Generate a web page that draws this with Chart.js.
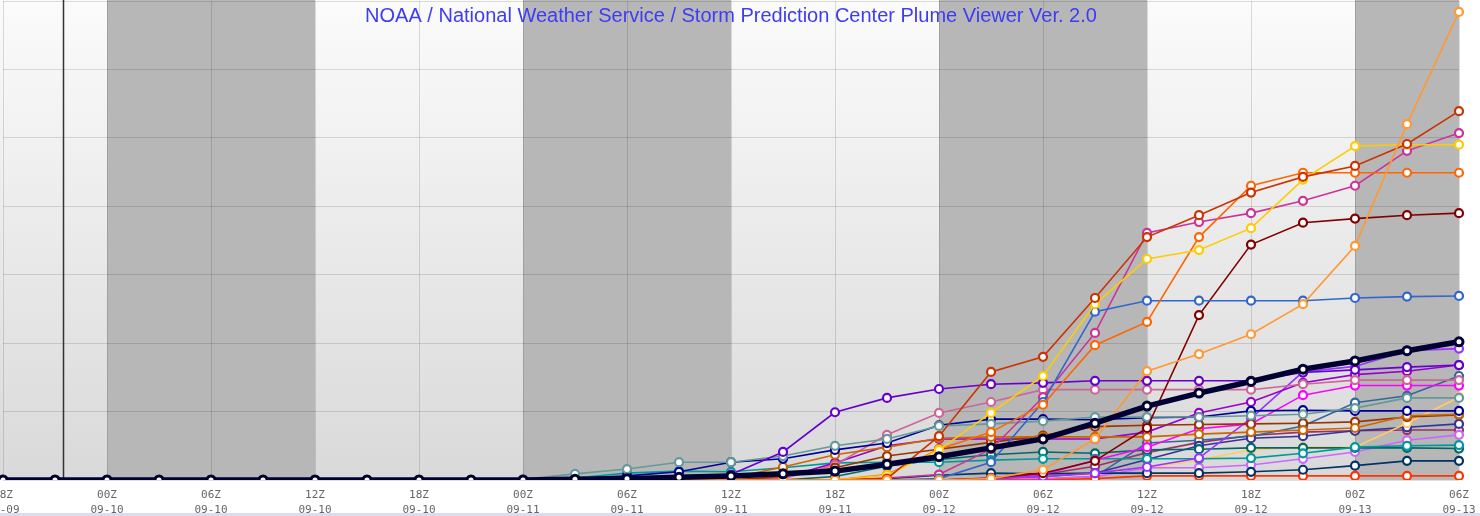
<!DOCTYPE html>
<html>
<head>
<meta charset="utf-8">
<script src="https://cdn.jsdelivr.net/npm/chart.js@4.4.1/dist/chart.umd.min.js"></script>
<style>
  html, body { margin: 0; padding: 0; background: #fff; }
  body { width: 1480px; height: 516px; overflow: hidden; position: relative; }
  #plume { position: absolute; left: 0; top: 0; }
  #strip { position: absolute; left: 0; top: 513px; width: 1480px; height: 3px; background: #dcdcf0; }
</style>
</head>
<body>
<canvas id="plume" width="1480" height="516"></canvas>
<div id="strip"></div>
<script>
const titleText = "NOAA / National Weather Service / Storm Prediction Center Plume Viewer Ver. 2.0"

// valid times, every 3 h
const timeLabels = ["18Z","21Z","00Z","03Z","06Z","09Z","12Z","15Z","18Z","21Z",
                    "00Z","03Z","06Z","09Z","12Z","15Z","18Z","21Z",
                    "00Z","03Z","06Z","09Z","12Z","15Z","18Z","21Z",
                    "00Z","03Z","06Z"]
const dateLabels = ["09-09","09-09","09-10","09-10","09-10","09-10","09-10","09-10","09-10","09-10",
                    "09-11","09-11","09-11","09-11","09-11","09-11","09-11","09-11",
                    "09-12","09-12","09-12","09-12","09-12","09-12","09-12","09-12",
                    "09-13","09-13","09-13"]

// night shading (index ranges) and the "now" marker
const nightBands = [[2, 6], [10, 14], [18, 22], [26, 28]]
const nowMark = 1.15

// ensemble members
const mem01 = [0,0,0,0,0,0,0,0,0,0, 0,0,0,0,0,0,0,0,0,0.02,0.15,0.60,1.59,1.84,2.13,2.57,3.42,5.20,6.84]
const mem02 = [0,0,0,0,0,0,0,0,0,0, 0,0,0,0,0,0,0,0.02,0.64,1.58,1.80,2.66,3.55,3.87,4.20,4.43,4.59,4.91,5.39]
const mem03 = [0,0,0,0,0,0,0,0,0,0, 0,0,0,0,0,0,0,0.07,0.44,0.98,1.52,2.57,3.23,3.36,3.68,4.39,4.88,4.90,4.90]
const mem04 = [0,0,0,0,0,0,0,0,0,0, 0,0,0,0,0,0,0,0.08,0.45,0.70,1.10,1.97,2.31,3.55,4.30,4.49,4.49,4.49,4.49]
const mem05 = [0,0,0,0,0,0,0,0,0,0, 0,0,0,0,0,0,0,0,0.02,0.26,1.14,2.46,2.62,2.62,2.62,2.62,2.66,2.68,2.69]
const mem06 = [0,0,0,0,0,0,0,0,0,0, 0,0,0,0,0,0,0,0.03,0.08,0.45,1.21,2.15,3.61,3.77,3.90,4.08,4.30,4.81,5.07]
const mem07 = [0,0,0,0,0,0,0,0,0,0, 0,0,0,0,0,0,0,0,0,0.03,0.10,0.28,0.76,2.41,3.44,3.76,3.82,3.87,3.90]
const mem08 = [0,0,0,0,0,0,0,0,0,0, 0,0,0,0.02,0.08,0.41,0.99,1.20,1.33,1.40,1.42,1.45,1.45,1.45,1.45,1.57,1.61,1.65,1.68]
const mem09 = [0,0,0,0,0,0,0,0,0,0, 0.01,0.09,0.16,0.26,0.26,0.35,0.50,0.60,0.79,0.82,0.86,0.92,0.92,0.92,0.94,0.96,1.05,1.20,1.20]
const mem10 = [0,0,0,0,0,0,0,0,0,0, 0,0.02,0.06,0.12,0.26,0.31,0.44,0.54,0.80,0.89,0.89,0.88,0.91,0.92,1.01,1.02,1.01,1.01,1.01]
const mem11 = [0,0,0,0,0,0,0,0,0,0, 0,0,0,0,0.03,0.19,0.37,0.48,0.61,0.63,0.63,0.63,0.63,0.67,0.70,0.73,0.76,0.94,0.96]
const mem12 = [0,0,0,0,0,0,0,0,0,0, 0,0,0,0,0,0.05,0.18,0.35,0.45,0.55,0.65,0.78,0.80,0.81,0.82,0.83,0.85,0.92,0.95]
const mem13 = [0,0,0,0,0,0,0,0,0,0, 0,0,0,0,0,0.02,0.22,0.66,0.98,1.14,1.32,1.32,1.32,1.32,1.32,1.40,1.46,1.46,1.46]
const mem14 = [0,0,0,0,0,0,0,0,0,0, 0,0,0,0,0,0.03,0.25,0.50,0.60,0.60,0.60,0.60,0.70,0.98,1.14,1.42,1.54,1.59,1.68]
const mem15 = [0,0,0,0,0,0,0,0,0,0, 0,0,0,0,0,0,0,0,0,0.02,0.05,0.10,0.19,0.32,0.90,1.58,1.66,1.89,1.92]
const mem16 = [0,0,0,0,0,0,0,0,0,0, 0,0,0,0,0,0,0,0,0,0.02,0.08,0.29,0.48,0.75,0.82,1.24,1.38,1.38,1.38]
const mem17 = [0,0,0,0,0,0,0,0,0,0, 0,0.03,0.10,0.13,0.12,0.18,0.25,0.26,0.26,0.29,0.31,0.31,0.31,0.31,0.32,0.39,0.48,0.50,0.51]
const mem18 = [0,0,0,0,0,0,0,0,0,0, 0,0,0,0,0,0,0.05,0.20,0.30,0.37,0.41,0.39,0.44,0.45,0.47,0.47,0.47,0.47,0.46]
const mem19 = [0,0,0,0,0,0,0,0,0,0, 0,0,0,0,0,0,0,0.02,0.07,0.10,0.09,0.10,0.10,0.10,0.12,0.15,0.21,0.28,0.28]
const mem20 = [0,0,0,0,0,0,0,0,0,0, 0,0,0,0,0,0,0,0,0,0,0,0.02,0.06,0.06,0.06,0.06,0.06,0.06,0.06]
const mem21 = [0,0,0,0,0,0,0,0,0,0, 0,0,0,0,0,0,0,0,0,0,0.02,0.05,0.18,0.18,0.22,0.31,0.41,0.58,0.66]
const mem22 = [0,0,0,0,0,0,0,0,0,0, 0,0,0,0,0,0,0,0,0,0,0.03,0.08,0.18,0.29,0.44,0.48,0.48,0.83,1.21]
const mem23 = [0,0,0,0,0,0,0,0,0,0, 0,0,0,0,0,0,0,0,0,0,0.03,0.10,0.30,0.50,0.61,0.64,0.72,0.77,0.82]
const mem24 = [0,0,0,0,0,0,0,0,0,0, 0,0,0,0,0,0,0,0,0,0,0.02,0.05,0.54,0.58,0.64,0.79,1.13,1.23,1.52]
const mem25 = [0,0,0,0,0,0,0,0,0,0, 0,0,0,0,0,0,0,0,0,0,0.08,0.20,0.40,0.55,0.65,0.70,0.72,0.73,0.73]
// ensemble mean
const srefMean = [0,0,0,0,0,0,0,0,0,0, 0,0.01,0.02,0.04,0.06,0.09,0.13,0.23,0.34,0.47,0.60,0.83,1.08,1.27,1.44,1.62,1.74,1.89,2.02]

const members = [mem01, mem02, mem03, mem04, mem05, mem06, mem07, mem08, mem09, mem10,
                 mem11, mem12, mem13, mem14, mem15, mem16, mem17, mem18, mem19, mem20,
                 mem21, mem22, mem23, mem24, mem25]
const memberColors = ["#ff9933","#cc3300","#ffcc00","#ff6600","#3366cc","#cc3399","#800000","#6600cc","#669999","#000099",
                      "#cc6600","#993300","#cc6699","#9900cc","#9933ff","#ff00ff","#009999","#006666","#003366","#ff3300",
                      "#cc66ff","#ffcc66","#333399","#336699","#993366"]

const bgPlugin = {
    id: "plumeBg",
    beforeDraw(chart) {
        const {ctx, chartArea: a, scales: {x}} = chart
        ctx.save()
        const g = ctx.createLinearGradient(0, a.top, 0, a.bottom)
        g.addColorStop(0, "#fbfbfb")
        g.addColorStop(1, "#d9d9d9")
        ctx.fillStyle = g
        ctx.fillRect(0, 0, a.right, a.bottom)
        ctx.fillStyle = "#b7b7b7"
        nightBands.forEach(([s, e]) => {
            const x0 = x.getPixelForValue(s)
            const x1 = x.getPixelForValue(e)
            ctx.fillRect(x0, 0, x1 - x0, a.bottom)
        })
        ctx.restore()
    },
    beforeDatasetsDraw(chart) {
        const {ctx, chartArea: a, scales: {x}} = chart
        const px = Math.round(x.getPixelForValue(nowMark)) + 0.5
        ctx.save()
        ctx.strokeStyle = "#333"
        ctx.lineWidth = 1.5
        ctx.beginPath()
        ctx.moveTo(px, 0)
        ctx.lineTo(px, a.bottom)
        ctx.stroke()
        ctx.restore()
    },
    afterDraw(chart) {
        const {ctx, chartArea: a} = chart
        ctx.save()
        ctx.font = '20px "Liberation Sans", Arial, sans-serif'
        ctx.fillStyle = "#3c3cf5"
        ctx.textAlign = "center"
        ctx.textBaseline = "top"
        ctx.fillText(titleText, (a.left + a.right) / 2, 6)
        ctx.restore()
    }
}

const datasets = members.map((vals, i) => ({
    label: "m" + (i + 1),
    data: vals,
    borderColor: memberColors[i],
    backgroundColor: "#fff",
    borderWidth: 1.6,
    pointRadius: 4,
    pointBorderWidth: 2.2,
    pointBackgroundColor: "#fff",
    pointBorderColor: memberColors[i],
    order: 1
}))
datasets.push({
    label: "mean",
    data: srefMean,
    borderColor: "#000033",
    backgroundColor: "#fff",
    borderWidth: 5.5,
    pointRadius: 4,
    pointBorderWidth: 3,
    pointBackgroundColor: "#fff",
    pointBorderColor: "#000033",
    order: 0
})

const gridColor = "rgba(0,0,0,0.13)"

new Chart(document.querySelector("#plume"), {
    type: "line",
    data: { labels: timeLabels, datasets: datasets },
    plugins: [bgPlugin],
    options: {
        responsive: false,
        maintainAspectRatio: false,
        animation: false,
        layout: { autoPadding: false, padding: { left: 3, right: 21, top: 1, bottom: 0 } },
        elements: { line: { tension: 0 } },
        plugins: { legend: { display: false }, tooltip: { enabled: false }, title: { display: false } },
        scales: {
            x: {
                type: "category",
                grid: { color: gridColor, drawTicks: false },
                border: { display: false },
                ticks: {
                    autoSkip: false,
                    maxRotation: 0,
                    padding: 7,
                    color: "#666",
                    font: { family: "DejaVu Sans Mono", size: 11, lineHeight: 1.4 },
                    callback: (v, i) => i % 2 === 0 ? [timeLabels[i], dateLabels[i]] : null
                },
                afterFit: (s) => { s.paddingLeft = 0; s.paddingRight = 0; s.height = 36 }
            },
            y: {
                min: 0,
                max: 7,
                grid: { color: gridColor, drawTicks: false },
                border: { display: false },
                ticks: { stepSize: 1, display: false },
                afterFit: (s) => { s.width = 0; s.paddingTop = 0; s.paddingBottom = 0 }
            }
        }
    }
})
</script>
</body>
</html>
